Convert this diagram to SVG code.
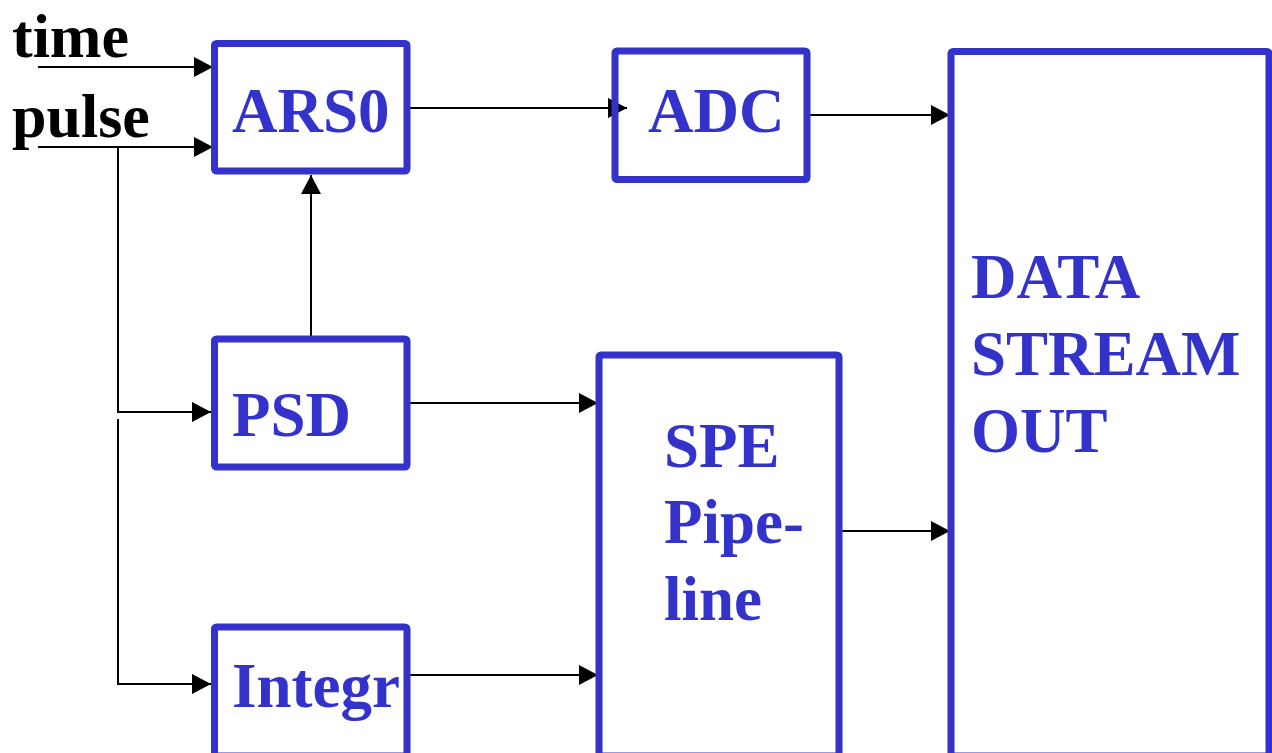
<svg xmlns="http://www.w3.org/2000/svg" width="1272" height="753" viewBox="0 0 1272 753">
<style>
.box{fill:none;stroke:#3333cc;stroke-width:7;stroke-linejoin:round}
.lbl{font-family:"Liberation Serif","Times New Roman",serif;font-weight:bold;font-size:63px;fill:#3333cc}
.in{font-family:"Liberation Serif","Times New Roman",serif;font-weight:bold;font-size:62px;fill:#000}
.wire{fill:none;stroke:#000;stroke-width:2}
</style>
<defs>
<marker id="ah" markerUnits="userSpaceOnUse" markerWidth="20" markerHeight="20" refX="19" refY="10" orient="auto">
<path d="M0,0 L19,10 L0,20 Z" fill="#000"/>
</marker>
</defs>
<rect width="1272" height="753" fill="#fff"/>
<g id="labels">
<text class="in" x="12" y="57">time</text>
<text class="in" x="12" y="137">pulse</text>
</g>
<g id="connectors">
<line class="wire" x1="38" y1="67" x2="213" y2="67" marker-end="url(#ah)"/>
<line class="wire" x1="38" y1="147" x2="213" y2="147" marker-end="url(#ah)"/>
<polyline class="wire" points="118,147 118,412 211,412" marker-end="url(#ah)"/>
<polyline class="wire" points="118,419 118,684 211,684" marker-end="url(#ah)"/>
<line class="wire" x1="311" y1="336" x2="311" y2="175" marker-end="url(#ah)"/>
<line class="wire" x1="410" y1="108" x2="627" y2="108" marker-end="url(#ah)"/>
<line class="wire" x1="807" y1="115" x2="950" y2="115" marker-end="url(#ah)"/>
<line class="wire" x1="406" y1="403" x2="598" y2="403" marker-end="url(#ah)"/>
<line class="wire" x1="406" y1="675" x2="598" y2="675" marker-end="url(#ah)"/>
<line class="wire" x1="838" y1="531" x2="950" y2="531" marker-end="url(#ah)"/>
</g>
<g id="ars0">
<rect class="box" x="214.5" y="43.5" width="192.5" height="127.5" rx="2"/>
<text class="lbl" x="232" y="132">ARS0</text>
</g>
<g id="adc">
<rect class="box" x="615" y="51" width="192" height="128.5" rx="2"/>
<text class="lbl" x="648" y="132">ADC</text>
</g>
<g id="psd">
<rect class="box" x="214.5" y="339" width="192.5" height="128" rx="2"/>
<text class="lbl" x="232" y="436">PSD</text>
</g>
<g id="integr">
<rect class="box" x="214.5" y="627" width="192.5" height="129" rx="2"/>
<text class="lbl" x="232" y="707">Integr</text>
</g>
<g id="spe">
<rect class="box" x="599" y="355" width="240" height="401" rx="2"/>
<text class="lbl" x="664" y="467">SPE</text>
<text class="lbl" x="664" y="543">Pipe-</text>
<text class="lbl" x="664" y="620">line</text>
</g>
<g id="datastream">
<rect class="box" x="951" y="51.5" width="318" height="704.5" rx="2"/>
<text class="lbl" x="971" y="298">DATA</text>
<text class="lbl" x="971" y="375">STREAM</text>
<text class="lbl" x="971" y="452">OUT</text>
</g>
</svg>
